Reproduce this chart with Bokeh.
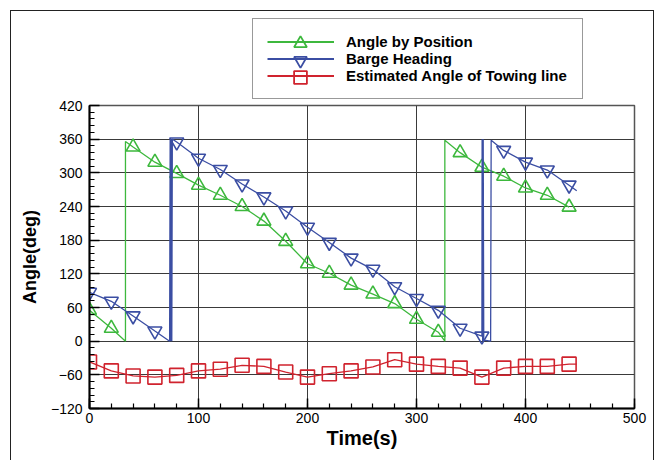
from bokeh.plotting import figure
from bokeh.layouts import column
from bokeh.models import Legend, LegendItem, FixedTicker, Range1d
from bokeh.embed import file_html
from bokeh.resources import INLINE

# ---- data ----
green_t = [0, 20, 33, 33, 40, 60, 80, 100, 120, 140, 160, 180, 200, 220, 240, 260,
           280, 300, 320, 326, 326, 340, 360, 380, 400, 420, 440]
green_v = [55, 23, 0, 356, 346, 319, 299, 278, 260, 240, 214, 178, 138, 121, 100, 84,
           67, 39, 16, 0, 358, 336, 310, 294, 273, 260, 239]

blue_t = [0, 20, 40, 60, 73.5, 74, 74.5, 75, 75.5, 76, 80, 100, 120, 140, 160, 180, 200,
          220, 240, 260, 280, 300, 320, 340, 360, 360.2, 360.7, 361.2, 361.7, 368, 368.5,
          380, 400, 420, 440, 447]
blue_v = [87, 71, 45, 18, 0, 360, 0, 360, 0, 360, 355, 326, 306, 280, 257, 232, 203,
          176, 148, 128, 97, 76, 55, 23, 9, 360, 0, 360, 2, 0, 358,
          340, 319, 305, 278, 268]

red_t = [0, 20, 40, 60, 80, 100, 120, 140, 160, 180, 200, 220, 240, 260, 280, 300,
         320, 340, 360, 380, 400, 420, 440, 447]
red_v = [-37, -53, -62, -64, -61, -53, -50, -43, -45, -55, -64, -58, -53, -46, -33, -41,
         -45, -48, -64, -48, -45, -45, -41, -41]

labels = ["Angle by Position", "Barge Heading", "Estimated Angle of Towing line"]
y_ticks = [-120, -60, 0, 60, 120, 180, 240, 300, 360, 420]
x_ticks = [0, 100, 200, 300, 400, 500]

GREEN = "#3db83d"
BLUE = "#3b4ea3"
RED = "#d0232e"
FONT = "Liberation Sans"

# ---- main plot ----
p = figure(width=642, height=362, output_backend="svg", toolbar_location=None,
           x_range=Range1d(0, 500), y_range=Range1d(-120, 420),
           min_border_left=78, min_border_right=19, min_border_top=6,
           min_border_bottom=53)

p.xaxis.ticker = FixedTicker(ticks=x_ticks, minor_ticks=list(range(0, 501, 20)))
p.yaxis.ticker = FixedTicker(ticks=y_ticks, minor_ticks=list(range(-120, 421, 12)))

p.grid.grid_line_color = "#3a3a3a"
p.grid.grid_line_width = 1
p.outline_line_color = "#555555"
p.outline_line_width = 1.5

for ax in (p.xaxis, p.yaxis):
    ax.axis_line_color = "black"
    ax.axis_line_width = 2
    ax.major_tick_in = 10
    ax.major_tick_out = 0
    ax.minor_tick_in = 5
    ax.minor_tick_out = 0
    ax.major_tick_line_color = "black"
    ax.minor_tick_line_color = "black"
    ax.major_tick_line_width = 1.5
    ax.minor_tick_line_width = 1.2
    ax.major_label_text_font = FONT
    ax.major_label_text_font_size = "14px"
    ax.major_label_text_color = "black"
    ax.axis_label_text_font = FONT
    ax.axis_label_text_font_style = "bold"
    ax.axis_label_text_color = "black"

p.xaxis.axis_label = "Time(s)"
p.yaxis.axis_label = "Angle(deg)"
p.xaxis.axis_label_text_font_size = "20px"
p.yaxis.axis_label_text_font_size = "18px"
p.xaxis.major_label_standoff = 4
p.yaxis.major_label_standoff = 7
p.xaxis.axis_label_standoff = 1
p.yaxis.axis_label_standoff = 8

series = [(green_t, green_v, GREEN, "triangle"),
          (blue_t, blue_v, BLUE, "inverted_triangle"),
          (red_t, red_v, RED, "square")]

for t, v, color, marker in series:
    p.line(t, v, line_color=color, line_width=1.3)
    mt = [a for a in t if a % 20 == 0]
    mv = [b for a, b in zip(t, v) if a % 20 == 0]
    p.scatter(mt, mv, marker=marker, size=14, fill_color=None,
              line_color=color, line_width=1.6)

# ---- legend strip above the plot ----
top = figure(width=642, height=88, output_backend="svg", toolbar_location=None,
             x_range=Range1d(0, 1), y_range=Range1d(0, 1),
             x_axis_type=None, y_axis_type=None, min_border=0)
top.outline_line_color = None
top.grid.visible = False

LEG_X, PAD, GW, ROW = 163, 14, 67, 17
line_items = []
marker_legends = []
for i, ((t, v, color, marker), lab) in enumerate(zip(series, labels)):
    # first point of each series; it lies outside this strip's range, so only
    # the legend swatches are visible
    ln = top.line(t[:1], v[:1], line_color=color, line_width=2)
    sc = top.scatter(t[:1], v[:1], marker=marker, fill_color=None,
                     line_color=color, line_width=1.8)
    line_items.append(LegendItem(label=lab, renderers=[ln]))
    # a larger marker swatch, centred on the row of the main legend
    row_center = PAD + ROW / 2 + ROW * (len(labels) - 1 - i)
    ml = Legend(items=[LegendItem(label=" ", renderers=[sc])],
                location=(LEG_X + PAD + GW / 2 - 16, row_center - 16),
                padding=0, margin=0, spacing=0, glyph_width=32, glyph_height=32,
                label_standoff=0, label_width=0, label_height=10,
                label_text_font_size="2px",
                border_line_color=None, background_fill_alpha=0)
    marker_legends.append(ml)

legend = Legend(items=line_items, location=(LEG_X, 0))
legend.padding = PAD
legend.spacing = 0
legend.margin = 0
legend.glyph_width = GW
legend.glyph_height = ROW
legend.label_height = ROW
legend.label_width = 222
legend.label_standoff = 12
legend.label_text_font = FONT
legend.label_text_font_size = "15px"
legend.label_text_font_style = "bold"
legend.label_text_color = "black"
legend.border_line_color = "#333333"
legend.border_line_width = 1.2
legend.background_fill_alpha = 1
top.add_layout(legend, "center")
for ml in marker_legends:
    top.add_layout(ml, "center")

inner = column(top, p, spacing=0)
inner.styles = {"border": "1.5px solid #222"}
outer = column(inner)
outer.styles = {"padding": "10px 0 0 10px"}

open("out.html", "w").write(file_html(outer, INLINE))
